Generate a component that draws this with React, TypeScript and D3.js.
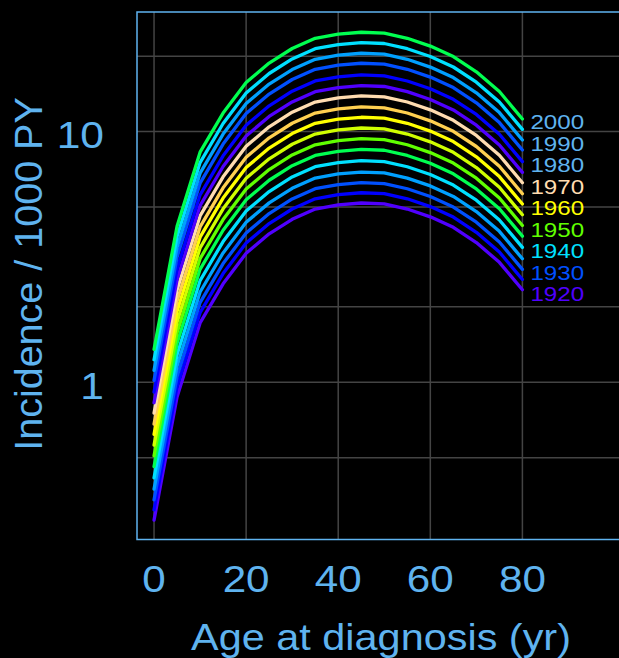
import React from "react";
import * as d3 from "d3";

// age at diagnosis (yr)
const ages = [0, 5, 10, 15, 20, 25, 30, 35, 40, 45, 50, 55, 60, 65, 70, 75, 80];
// incidence / 1000 PY for the 1920 birth cohort
const rate1920 = [0.282, 0.874, 1.725, 2.47, 3.27, 3.91, 4.47, 4.91, 5.1, 5.19, 5.15, 4.91, 4.57, 4.15, 3.61, 3.01, 2.34];
const cohorts = [1920, 1925, 1930, 1935, 1940, 1945, 1950, 1955, 1960, 1965, 1970, 1975, 1980, 1985, 1990, 1995, 2000];
const cohortRR = [1, 1.099, 1.205, 1.329, 1.475, 1.636, 1.805, 1.992, 2.198, 2.416, 2.673, 2.939, 3.242, 3.61, 3.957, 4.362, 4.8];
const cohortColors = [
  "#5000ff", "#0000ff", "#0050ff", "#00a0ff", "#00e0ff", "#00ff50", "#60ff00", "#d0ff00",
  "#ffff00", "#ffd050", "#ffdcb0", "#5000ff", "#0000ff", "#0050ff", "#00a0ff", "#00e0ff", "#00ff50",
];
const labelCohorts = [1920, 1930, 1940, 1950, 1960, 1970, 1980, 1990, 2000];
const labelColors = ["#5000ff", "#0050ff", "#00e0ff", "#60ff00", "#ffff00", "#ffdcb0", "#5fb3ef", "#5fb3ef", "#5fb3ef"];

const xTicks = [0, 20, 40, 60, 80];
const yGrid = [0.5, 1, 2, 5, 10, 20];
const yTickLabels = [1, 10];

const W = 619, H = 658;
const axisColor = "#5fb3ef";
const font = "'Liberation Sans', Arial, sans-serif";
const labelGap = 21.5;

export default function App() {
  const x = d3.scaleLinear().domain([-3.7, 102]).range([137, 623.7]);
  const y = d3.scaleLog().domain([0.236, 30]).range([539.5, 12]);

  const series = cohorts.map((c, i) => ({
    cohort: c,
    color: cohortColors[i],
    pts: ages.map((a, j) => ({ age: a, v: rate1920[j] * cohortRR[i] })),
  }));

  const line = d3.line<{ age: number; v: number }>()
    .x(d => x(d.age))
    .y(d => y(d.v));

  const [x0, x1] = x.range();
  const [yb, yt] = y.range();

  // label at each curve end, pushed down so they keep a minimum gap
  const labelY = labelCohorts.map(c => {
    const s = series[cohorts.indexOf(c)];
    return y(s.pts[s.pts.length - 1].v);
  });
  for (let i = labelY.length - 2; i >= 0; i--) {
    labelY[i] = Math.max(labelY[i], labelY[i + 1] + labelGap);
  }

  return (
    <svg width={W} height={H} style={{ position: "absolute", left: 0, top: 0, display: "block" }}>
      <rect width={W} height={H} fill="#000" />

      {/* grid */}
      {xTicks.map(t => (
        <line key={"gx" + t} x1={x(t)} x2={x(t)} y1={yt} y2={yb} stroke="#444" strokeWidth={1.5} />
      ))}
      {yGrid.map(t => (
        <line key={"gy" + t} x1={x0} x2={x1} y1={y(t)} y2={y(t)} stroke="#444" strokeWidth={1.5} />
      ))}

      {/* curves */}
      {series.map(s => (
        <path key={s.cohort} d={line(s.pts) || ""} fill="none" stroke={s.color}
          strokeWidth={3.3} strokeLinejoin="round" strokeLinecap="round" />
      ))}

      {/* cohort labels */}
      {labelCohorts.map((c, i) => (
        <text key={"l" + c} transform={`translate(${x(80) + 8},${labelY[i] + 10.5}) scale(1.15,1)`}
          fill={labelColors[i]} fontFamily={font} fontSize={21}>{c}</text>
      ))}

      {/* frame */}
      <rect x={x0} y={yt} width={x1 - x0} height={yb - yt} fill="none" stroke={axisColor} strokeWidth={1.5} />

      {/* x tick labels */}
      {xTicks.map(t => (
        <text key={"xt" + t} transform={`translate(${x(t)},592) scale(1.14,1)`} textAnchor="middle"
          fill={axisColor} fontFamily={font} fontSize={37}>{t}</text>
      ))}
      {/* y tick labels */}
      {yTickLabels.map(t => (
        <text key={"yt" + t} transform={`translate(104,${y(t) + 16.5}) scale(1.15,1)`} textAnchor="end"
          fill={axisColor} fontFamily={font} fontSize={37}>{t}</text>
      ))}

      {/* axis titles */}
      <text transform="translate(381,650) scale(1.12,1)" textAnchor="middle" fill={axisColor}
        fontFamily={font} fontSize={37}>Age at diagnosis (yr)</text>
      <text transform="translate(41.5,274) rotate(-90)" textAnchor="middle" fill={axisColor}
        fontFamily={font} fontSize={39.5}>Incidence / 1000 PY</text>
    </svg>
  );
}
